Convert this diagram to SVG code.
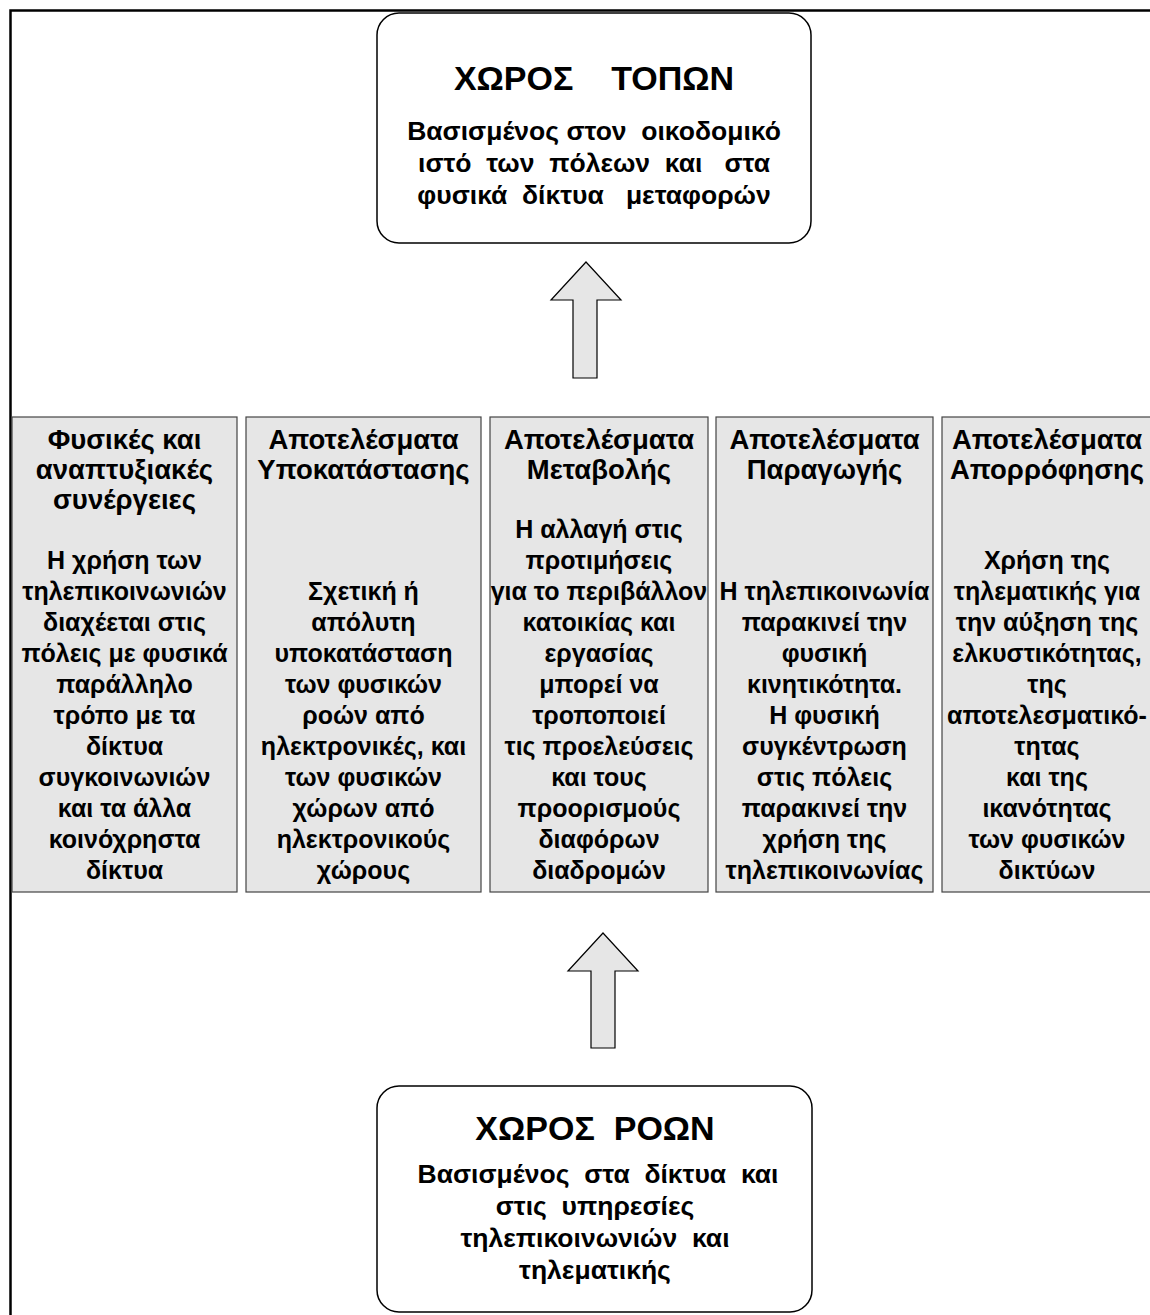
<svg xmlns="http://www.w3.org/2000/svg" width="1150" height="1315" viewBox="0 0 1150 1315">
  <style>
    text { font-family: "Liberation Sans", Arial, sans-serif; font-weight: bold; fill: #000; text-anchor: middle; }
    .big { font-size: 34px; }
    .box { font-size: 26.5px; }
    .txt { font-size: 25px; }
    .ttl { font-size: 27.5px; }
    .space { fill: #fff; stroke: #000; stroke-width: 1.5; }
    .col { fill: #e6e6e6; stroke: #444; stroke-width: 1.2; }
    .arrow { fill: #e6e6e6; stroke: #000; stroke-width: 1.2; stroke-linejoin: miter; }
    .frame { stroke: #000; stroke-width: 2.5; fill: none; }
  </style>

  <rect width="1150" height="1315" fill="#fff"/>

  <!-- page frame (top and left edges) -->
  <path class="frame" d="M10.5,1315 V10.5 H1150"/>

  <!-- space of places -->
  <g id="space-places">
    <rect class="space" x="377" y="13" width="434" height="230" rx="22"/>
    <text class="big" x="594" y="90" xml:space="preserve">ΧΩΡΟΣ    ΤΟΠΩΝ</text>
    <text class="box" x="594" y="140" xml:space="preserve">Βασισμένος στον  οικοδομικό</text>
    <text class="box" x="594" y="172" xml:space="preserve">ιστό  των  πόλεων  και   στα</text>
    <text class="box" x="594" y="204" xml:space="preserve">φυσικά  δίκτυα   μεταφορών</text>
  </g>

  <!-- effect columns -->
  <g id="col-synergies">
    <rect class="col" x="12" y="417" width="225" height="475"/>
    <text class="ttl" x="124.5" y="449">Φυσικές και</text>
    <text class="ttl" x="124.5" y="479">αναπτυξιακές</text>
    <text class="ttl" x="124.5" y="509">συνέργειες</text>
    <text class="txt" x="124.5" y="569">Η χρήση των</text>
    <text class="txt" x="124.5" y="600">τηλεπικοινωνιών</text>
    <text class="txt" x="124.5" y="631">διαχέεται στις</text>
    <text class="txt" x="124.5" y="662">πόλεις με φυσικά</text>
    <text class="txt" x="124.5" y="693">παράλληλο</text>
    <text class="txt" x="124.5" y="724">τρόπο με τα</text>
    <text class="txt" x="124.5" y="755">δίκτυα</text>
    <text class="txt" x="124.5" y="786">συγκοινωνιών</text>
    <text class="txt" x="124.5" y="817">και τα άλλα</text>
    <text class="txt" x="124.5" y="848">κοινόχρηστα</text>
    <text class="txt" x="124.5" y="879">δίκτυα</text>
  </g>

  <g id="col-substitution">
    <rect class="col" x="246" y="417" width="235" height="475"/>
    <text class="ttl" x="363.5" y="449">Αποτελέσματα</text>
    <text class="ttl" x="363.5" y="479">Υποκατάστασης</text>
    <text class="txt" x="363.5" y="600">Σχετική ή</text>
    <text class="txt" x="363.5" y="631">απόλυτη</text>
    <text class="txt" x="363.5" y="662">υποκατάσταση</text>
    <text class="txt" x="363.5" y="693">των φυσικών</text>
    <text class="txt" x="363.5" y="724">ροών από</text>
    <text class="txt" x="363.5" y="755">ηλεκτρονικές, και</text>
    <text class="txt" x="363.5" y="786">των φυσικών</text>
    <text class="txt" x="363.5" y="817">χώρων από</text>
    <text class="txt" x="363.5" y="848">ηλεκτρονικούς</text>
    <text class="txt" x="363.5" y="879">χώρους</text>
  </g>

  <g id="col-change">
    <rect class="col" x="490" y="417" width="218" height="475"/>
    <text class="ttl" x="599" y="449">Αποτελέσματα</text>
    <text class="ttl" x="599" y="479">Μεταβολής</text>
    <text class="txt" x="599" y="538">Η αλλαγή στις</text>
    <text class="txt" x="599" y="569">προτιμήσεις</text>
    <text class="txt" x="599" y="600">για το περιβάλλον</text>
    <text class="txt" x="599" y="631">κατοικίας και</text>
    <text class="txt" x="599" y="662">εργασίας</text>
    <text class="txt" x="599" y="693">μπορεί να</text>
    <text class="txt" x="599" y="724">τροποποιεί</text>
    <text class="txt" x="599" y="755">τις προελεύσεις</text>
    <text class="txt" x="599" y="786">και τους</text>
    <text class="txt" x="599" y="817">προορισμούς</text>
    <text class="txt" x="599" y="848">διαφόρων</text>
    <text class="txt" x="599" y="879">διαδρομών</text>
  </g>

  <g id="col-generation">
    <rect class="col" x="716" y="417" width="217" height="475"/>
    <text class="ttl" x="824.5" y="449">Αποτελέσματα</text>
    <text class="ttl" x="824.5" y="479">Παραγωγής</text>
    <text class="txt" x="824.5" y="600">Η τηλεπικοινωνία</text>
    <text class="txt" x="824.5" y="631">παρακινεί την</text>
    <text class="txt" x="824.5" y="662">φυσική</text>
    <text class="txt" x="824.5" y="693">κινητικότητα.</text>
    <text class="txt" x="824.5" y="724">Η φυσική</text>
    <text class="txt" x="824.5" y="755">συγκέντρωση</text>
    <text class="txt" x="824.5" y="786">στις πόλεις</text>
    <text class="txt" x="824.5" y="817">παρακινεί την</text>
    <text class="txt" x="824.5" y="848">χρήση της</text>
    <text class="txt" x="824.5" y="879">τηλεπικοινωνίας</text>
  </g>

  <g id="col-absorption">
    <rect class="col" x="942" y="417" width="215" height="475"/>
    <text class="ttl" x="1047" y="449">Αποτελέσματα</text>
    <text class="ttl" x="1047" y="479">Απορρόφησης</text>
    <text class="txt" x="1047" y="569">Χρήση της</text>
    <text class="txt" x="1047" y="600">τηλεματικής για</text>
    <text class="txt" x="1047" y="631">την αύξηση της</text>
    <text class="txt" x="1047" y="662">ελκυστικότητας,</text>
    <text class="txt" x="1047" y="693">της</text>
    <text class="txt" x="1047" y="724">αποτελεσματικό-</text>
    <text class="txt" x="1047" y="755">τητας</text>
    <text class="txt" x="1047" y="786">και της</text>
    <text class="txt" x="1047" y="817">ικανότητας</text>
    <text class="txt" x="1047" y="848">των φυσικών</text>
    <text class="txt" x="1047" y="879">δικτύων</text>
  </g>

  <!-- space of flows -->
  <g id="space-flows">
    <rect class="space" x="377" y="1086" width="435" height="226" rx="22"/>
    <text class="big" x="595" y="1140" xml:space="preserve">ΧΩΡΟΣ  ΡΟΩΝ</text>
    <text class="box" x="598" y="1183" xml:space="preserve">Βασισμένος  στα  δίκτυα  και</text>
    <text class="box" x="595" y="1215" xml:space="preserve">στις  υπηρεσίες</text>
    <text class="box" x="595" y="1247" xml:space="preserve">τηλεπικοινωνιών  και</text>
    <text class="box" x="595" y="1279">τηλεματικής</text>
  </g>

  <!-- block arrows -->
  <g id="connectors">
    <path class="arrow" d="M586,262 L621,300 L597,300 L597,378 L573,378 L573,300 L551,300 Z"/>
    <path class="arrow" d="M603,933 L638,971 L615,971 L615,1048 L591,1048 L591,971 L568,971 Z"/>
  </g>
</svg>
